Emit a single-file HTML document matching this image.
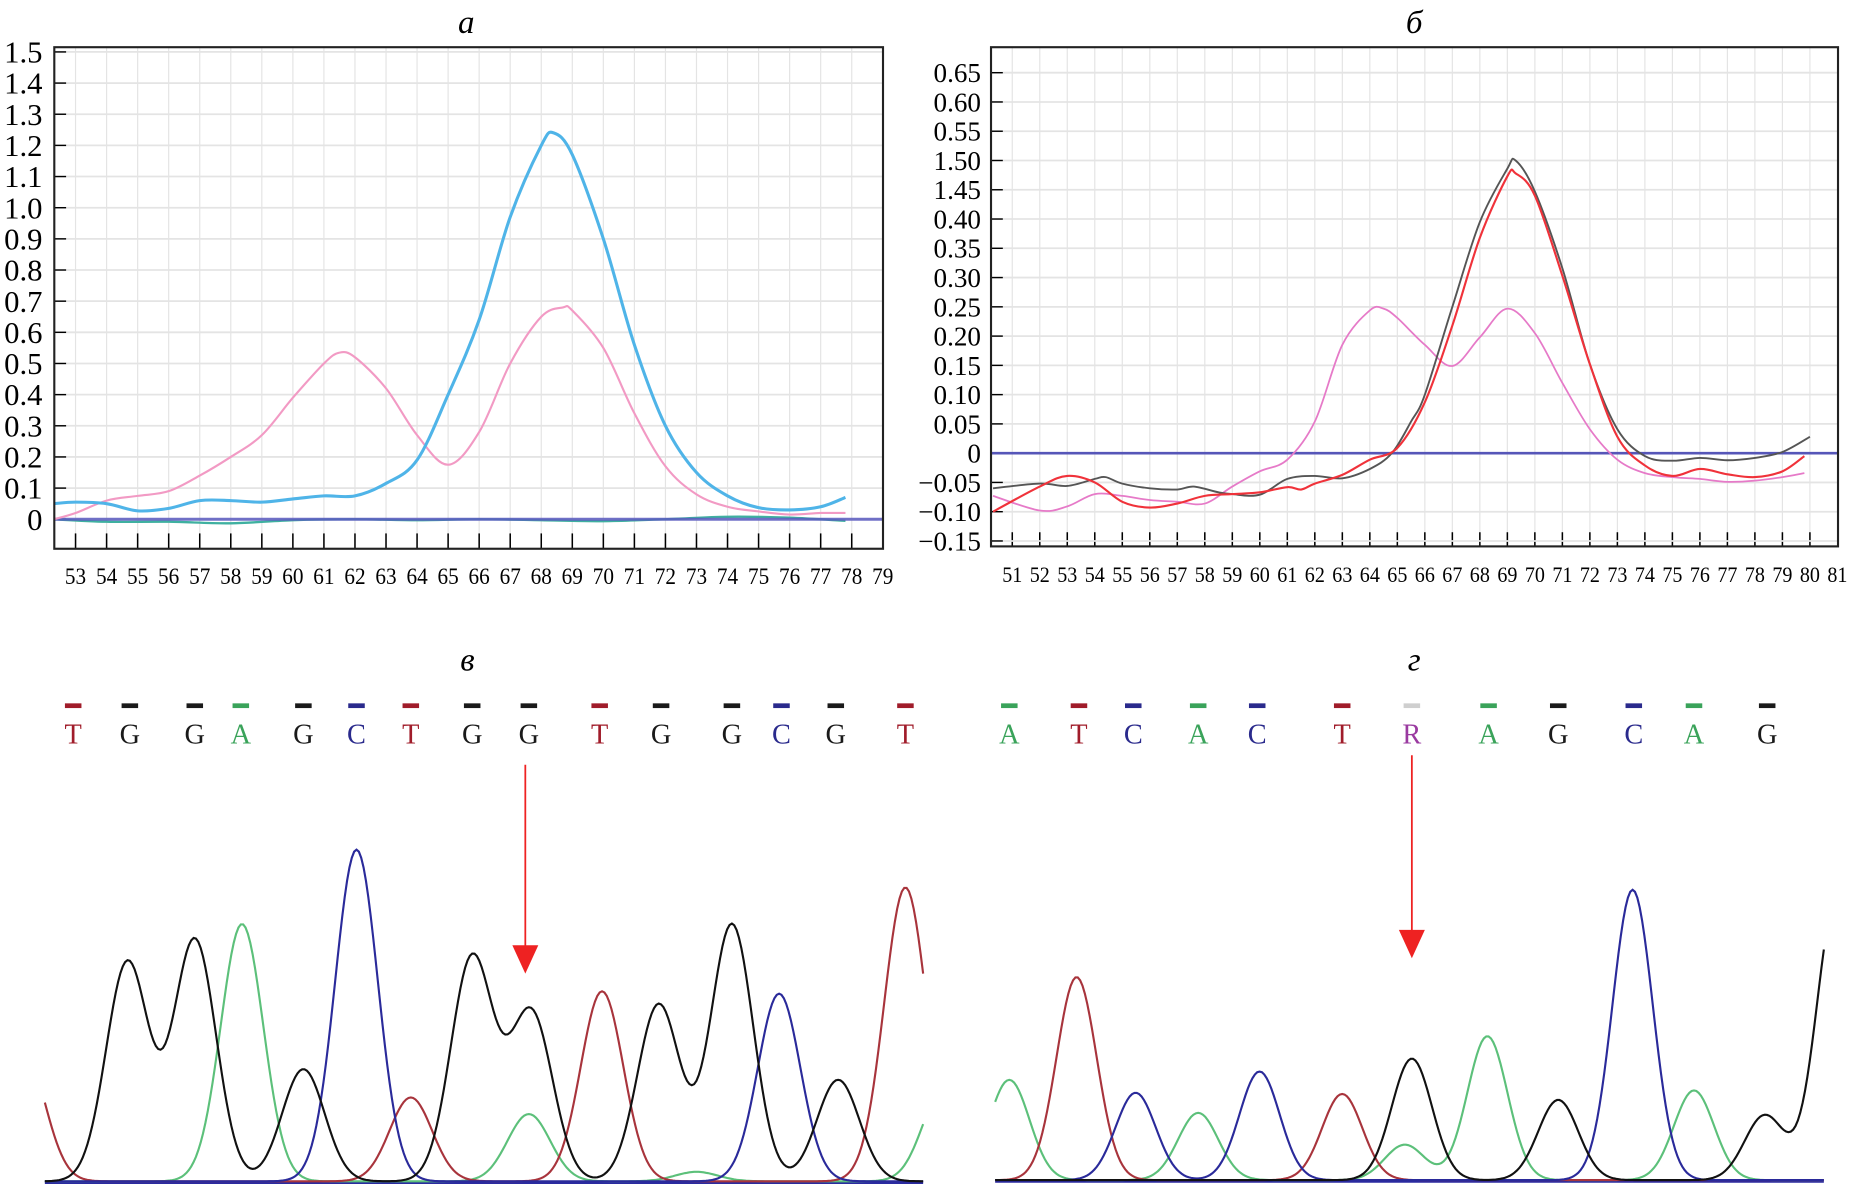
<!DOCTYPE html>
<html><head><meta charset="utf-8"><style>
html,body{margin:0;padding:0;background:#fff;}
svg{display:block;}
text{font-family:"Liberation Serif","DejaVu Serif",serif;}
</style></head><body>
<svg id="fig" width="1851" height="1199" viewBox="0 0 1568 1016" preserveAspectRatio="none" xmlns="http://www.w3.org/2000/svg">
<rect x="0" y="0" width="1568" height="1016" fill="#fff"/>
<text x="395" y="28" font-size="28" font-style="italic" text-anchor="middle">а</text>
<text x="1198" y="28" font-size="28" font-style="italic" text-anchor="middle">б</text>
<text x="396" y="568" font-size="28" font-style="italic" text-anchor="middle">в</text>
<text x="1198" y="568" font-size="28" font-style="italic" text-anchor="middle">г</text>
<g id="pa"></g>
<g id="pb"></g>
<g id="pv"></g>
<g id="pg"></g>
</svg>
<script>
// ---------- Panel a data ----------
const aXTicks = [53,54,55,56,57,58,59,60,61,62,63,64,65,66,67,68,69,70,71,72,73,74,75,76,77,78,79];
const aYTicks = [0,0.1,0.2,0.3,0.4,0.5,0.6,0.7,0.8,0.9,1.0,1.1,1.2,1.3,1.4,1.5];
const aYLabels = ["0","0.1","0.2","0.3","0.4","0.5","0.6","0.7","0.8","0.9","1.0","1.1","1.2","1.3","1.4","1.5"];
const aBlueT = [52.3,53,54,55,56,57,58,59,60,61,62,63,64,65,66,67,68,68.4,69,70,71,72,73,74,75,76,77,77.8];
const aBlueV = [0.05,0.055,0.05,0.027,0.035,0.06,0.06,0.055,0.065,0.075,0.075,0.115,0.19,0.4,0.64,0.97,1.2,1.24,1.17,0.9,0.56,0.3,0.15,0.075,0.037,0.03,0.04,0.07];
const aPinkT = [52.3,53,54,55,56,57,58,59,60,61,61.5,62,63,64,65,66,67,68,68.7,69,70,71,72,73,74,75,76,77,77.8];
const aPinkV = [0.0,0.02,0.06,0.075,0.09,0.14,0.2,0.27,0.39,0.5,0.535,0.52,0.42,0.27,0.175,0.28,0.5,0.65,0.68,0.67,0.55,0.34,0.17,0.08,0.04,0.025,0.015,0.02,0.02];
const aTealT = [52.3,54,56,58,60,62,64,66,68,70,72,74,76,77.8];
const aTealV = [0.0,-0.008,-0.008,-0.013,-0.003,0.0,-0.003,0.0,-0.003,-0.006,0.0,0.008,0.005,-0.005];

// ---------- Panel b data ----------
const bXTicks = [51,52,53,54,55,56,57,58,59,60,61,62,63,64,65,66,67,68,69,70,71,72,73,74,75,76,77,78,79,80,81];
const bYTicks = [0.65,0.6,0.55,0.5,0.45,0.4,0.35,0.3,0.25,0.2,0.15,0.1,0.05,0,-0.05,-0.1,-0.15];
const bYLabels = ["0.65","0.60","0.55","1.50","1.45","0.40","0.35","0.30","0.25","0.20","0.15","0.10","0.05","0","\u22120.05","\u22120.10","\u22120.15"];
const bGrayT = [50.3,52,53,54,54.4,55,56,57,57.6,58.5,59,60,61,62,63,64,64.8,65.5,66,67,68,69,69.3,70,71,72,73,74,75,76,77,78,79,80];
const bGrayV = [-0.06,-0.052,-0.056,-0.044,-0.041,-0.052,-0.06,-0.062,-0.057,-0.067,-0.07,-0.071,-0.044,-0.039,-0.043,-0.027,0,0.054,0.1,0.25,0.395,0.486,0.5,0.447,0.316,0.152,0.041,-0.005,-0.013,-0.008,-0.012,-0.008,0.002,0.028];
const bRedT = [50.3,52,53,54,55,56,57,58,59,60,61,61.5,62,63,64,65,66,67,68,69,69.3,70,71,72,73,74,75,76,77,78,79,79.8];
const bRedV = [-0.1,-0.057,-0.039,-0.05,-0.083,-0.093,-0.086,-0.073,-0.07,-0.067,-0.058,-0.062,-0.052,-0.037,-0.011,0.009,0.087,0.218,0.368,0.473,0.478,0.44,0.303,0.152,0.028,-0.021,-0.039,-0.027,-0.036,-0.041,-0.031,-0.005];
const bPinkT = [50.3,52,53,54,55,56,57,58,59,60,61,62,63,64,64.5,65,66,67,68,69,70,71,72,73,74,75,76,77,78,79,79.8];
const bPinkV = [-0.073,-0.098,-0.091,-0.07,-0.073,-0.08,-0.083,-0.086,-0.057,-0.031,-0.011,0.054,0.185,0.244,0.247,0.231,0.185,0.149,0.198,0.247,0.205,0.12,0.041,-0.011,-0.034,-0.041,-0.044,-0.049,-0.047,-0.041,-0.034];

// ---------- Chromatogram в data (peak position px, height signal) ----------
const vBases = ["T","G","G","A","G","C","T","G","G","T","G","G","C","G","T"];
const vBaseX = [62,110,165,204,257,302,348,400,448,508,560,620,662,708,767];
const vBlackPos = [108,165,257,400,450,558,620,710];
const vBlackH = [186,205,95,190,143,150,218,86];
const vGreenPos = [205,448,590,800];
const vGreenH = [218,57,8,80];
const vBluePos = [302,660];
const vBlueH = [281,159];
const vRedPos = [20,348,510,767];
const vRedH = [110,71,161,249];

// ---------- Chromatogram г data ----------
const gBases = ["A","T","C","A","C","T","R","A","G","C","A","G"];
const gBaseX = [855,914,960,1015,1065,1137,1196,1261,1320,1384,1435,1497];
const gBlackPos = [1196,1320,1495,1556];
const gBlackH = [103,68,55,240];
const gGreenPos = [855,1015,1190,1260,1435];
const gGreenH = [85,57,30,122,76];
const gBluePos = [962,1067,1383];
const gBlueH = [74,92,246];
const gRedPos = [912,1137];
const gRedH = [172,73];

const NS='http://www.w3.org/2000/svg';
function mk(parent, tag, attrs){const e=document.createElementNS(NS,tag);for(const k in attrs)e.setAttribute(k,attrs[k]);parent.appendChild(e);return e;}
function smooth(pts){let d='M'+pts[0][0].toFixed(1)+','+pts[0][1].toFixed(1);
 for(let i=0;i<pts.length-1;i++){const p0=pts[i-1]||pts[i],p1=pts[i],p2=pts[i+1],p3=pts[i+2]||p2;
  const c1=[p1[0]+(p2[0]-p0[0])/6,p1[1]+(p2[1]-p0[1])/6],c2=[p2[0]-(p3[0]-p1[0])/6,p2[1]-(p3[1]-p1[1])/6];
  d+=' C'+c1[0].toFixed(1)+','+c1[1].toFixed(1)+' '+c2[0].toFixed(1)+','+c2[1].toFixed(1)+' '+p2[0].toFixed(1)+','+p2[1].toFixed(1);}
 return d;}

// ---- Panel a ----
(function(){
 const g=document.getElementById('pa');
 const xa=t=>64+(t-53)*26.3, ya=v=>440-v*264;
 const L=46,R=748,T=40,B=465;
 aXTicks.forEach(t=>{const x=xa(t); if(x<R-1){
   const l=mk(g,'line',{x1:x,x2:x,y1:T,y2:B,stroke:'#e4e4e4','stroke-width':1});
   
   
   const tk=mk(g,'line',{x1:x,x2:x,y1:452,y2:B,stroke:'#000','stroke-width':1.3});
   
   }
  const tx=mk(g,'text',{x:x,y:495,'font-size':20,'text-anchor':'middle',textLength:18,lengthAdjust:'spacingAndGlyphs'});
  tx.textContent=t;
  
  });
 aYTicks.forEach((v,i)=>{const y=ya(v);
  const l=mk(g,'line',{x1:L,x2:R,y1:y,y2:y,stroke:'#e4e4e4','stroke-width':1.5});
  
  
  const tk=mk(g,'line',{x1:L,x2:L+10,y1:y,y2:y,stroke:'#000','stroke-width':1.2});
  
  
  const tx=mk(g,'text',{x:36,y:y+9,'font-size':26,'text-anchor':'end'});
  tx.textContent=aYLabels[i];
  
  });
 const tl=mk(g,'path',{d:smooth(aTealT.map((t,i)=>[xa(t),ya(aTealV[i])])),fill:'none',stroke:'#3fb0a0','stroke-width':2});
 
 
 const z=mk(g,'line',{x1:L,x2:R,y1:ya(0),y2:ya(0),stroke:'#5b5bc0','stroke-width':2.5,opacity:0.85});
 
 
 const pk=mk(g,'path',{d:smooth(aPinkT.map((t,i)=>[xa(t),ya(aPinkV[i])])),fill:'none',stroke:'#f29ac4','stroke-width':1.8});
 
 
 const bl=mk(g,'path',{d:smooth(aBlueT.map((t,i)=>[xa(t),ya(aBlueV[i])])),fill:'none',stroke:'#4fb4e8','stroke-width':2.6});
 
 
 const fr=mk(g,'rect',{x:L,y:T,width:R-L,height:B-T,fill:'none',stroke:'#222','stroke-width':1.8});
 
 
})();

// ---- Panel b ----
(function(){
 const g=document.getElementById('pb');
 const xb=t=>857.5+(t-51)*23.3, yb=v=>384-v*496;
 const L=839.5,R=1557,T=40,B=463;
 bXTicks.forEach(t=>{const x=xb(t); if(x<R-1){
   const l=mk(g,'line',{x1:x,x2:x,y1:T,y2:B,stroke:'#e4e4e4','stroke-width':1});
   
   
   const tk=mk(g,'line',{x1:x,x2:x,y1:451,y2:B,stroke:'#000','stroke-width':1.3});
   
   }
  const tx=mk(g,'text',{x:x,y:493,'font-size':19,'text-anchor':'middle',textLength:17,lengthAdjust:'spacingAndGlyphs'});
  tx.textContent=t;
  
  });
 bYTicks.forEach((v,i)=>{const y=yb(v);
  const l=mk(g,'line',{x1:L,x2:R,y1:y,y2:y,stroke:'#e4e4e4','stroke-width':1.5});
  
  
  const tk=mk(g,'line',{x1:L,x2:L+10,y1:y,y2:y,stroke:'#000','stroke-width':1.2});
  
  
  const tx=mk(g,'text',{x:831,y:y+8,'font-size':23,'text-anchor':'end'});
  tx.textContent=bYLabels[i];
  
  });
 const z=mk(g,'line',{x1:L,x2:R,y1:yb(0),y2:yb(0),stroke:'#5656b8','stroke-width':2.2});
 
 
 const pk=mk(g,'path',{d:smooth(bPinkT.map((t,i)=>[xb(t),yb(bPinkV[i])])),fill:'none',stroke:'#e67ac8','stroke-width':1.5});
 
 
 const gr=mk(g,'path',{d:smooth(bGrayT.map((t,i)=>[xb(t),yb(bGrayV[i])])),fill:'none',stroke:'#555','stroke-width':1.6});
 
 
 const rd=mk(g,'path',{d:smooth(bRedT.map((t,i)=>[xb(t),yb(bRedV[i])])),fill:'none',stroke:'#f0323a','stroke-width':1.8});
 
 
 const fr=mk(g,'rect',{x:L,y:T,width:R-L,height:B-T,fill:'none',stroke:'#222','stroke-width':1.8});
 
 
})();

// ---- Chromatograms ----
const baseColor={A:'#3aa35a',T:'#a01c2a',C:'#2a2a8c',G:'#1a1a1a',R:'#9a3aa0'};
function chrom(gid,x0,x1,base,sig,channels,bases,baseX,arrowX,arrowTop,arrowTip){
 const g=document.getElementById(gid);
 bases.forEach((b,i)=>{
  const dash=mk(g,'rect',{x:baseX[i]-7,y:596,width:14,height:4,fill:b==='R'?'#cfcfcf':baseColor[b]});
  
  
  const t=mk(g,'text',{x:baseX[i],y:630,'font-size':24,'text-anchor':'middle',fill:baseColor[b]});
  t.textContent=b;
  
  });
 const bl=mk(g,'line',{x1:x0,x2:x1,y1:base+1,y2:base+1,stroke:'#2a2aa0','stroke-width':2.5});
 
 
 channels.forEach(ch=>{
  let d='';
  for(let x=x0;x<=x1;x+=2){let v=0;ch.pos.forEach((p,i)=>{v+=ch.h[i]*Math.exp(-((x-p)*(x-p))/(2*sig*sig));});
   d+=(d?' L':'M')+x+','+(base-v).toFixed(1);}
  const p=mk(g,'path',{d:d,fill:'none',stroke:ch.color,'stroke-width':1.8});
  
  });
 const al=mk(g,'line',{x1:arrowX,x2:arrowX,y1:arrowTop,y2:arrowTip-20,stroke:'#ee2222','stroke-width':1.5});
 
 
 const ah=mk(g,'polygon',{points:(arrowX-11)+','+(arrowTip-24)+' '+(arrowX+11)+','+(arrowTip-24)+' '+arrowX+','+arrowTip,fill:'#ee2222'});
 
 
}
chrom('pv',38,782,1001,18,[
 {name:'green',color:'#5cc07a',pos:vGreenPos,h:vGreenH},
 {name:'red',color:'#a8343c',pos:vRedPos,h:vRedH},
 {name:'blue',color:'#2a2a9a',pos:vBluePos,h:vBlueH},
 {name:'black',color:'#111',pos:vBlackPos,h:vBlackH}],vBases,vBaseX,445,648,825);
chrom('pg',843,1545,1000,17,[
 {name:'green',color:'#5cc07a',pos:gGreenPos,h:gGreenH},
 {name:'red',color:'#a8343c',pos:gRedPos,h:gRedH},
 {name:'blue',color:'#2a2a9a',pos:gBluePos,h:gBlueH},
 {name:'black',color:'#111',pos:gBlackPos,h:gBlackH}],gBases,gBaseX,1196,640,812);
</script>
</body></html>
